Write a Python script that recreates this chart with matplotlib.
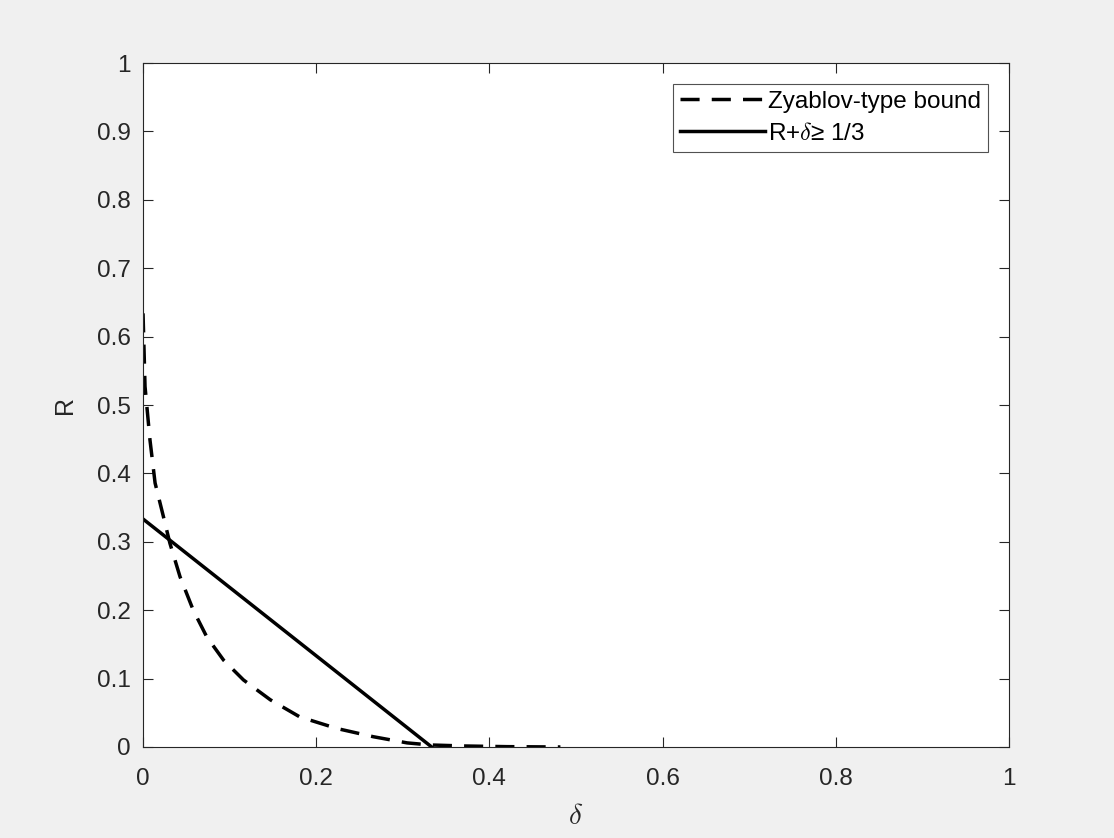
import numpy as np
import matplotlib
matplotlib.use("Agg")
import matplotlib.pyplot as plt

# Zyablov-type bound
zy_delta = [0.0, 0.0023, 0.008, 0.0139, 0.0235, 0.031, 0.0427, 0.058, 0.0736,
            0.093, 0.116, 0.147, 0.181, 0.224, 0.266, 0.305, 0.331, 0.37, 0.42, 0.482]
zy_rate = [0.634, 0.527, 0.449, 0.386, 0.337, 0.298, 0.249, 0.200, 0.161,
           0.127, 0.098, 0.069, 0.044, 0.027, 0.015, 0.006, 0.003, 0.0015, 0.0005, 0.0]

# R + delta >= 1/3
lin_delta = [0.0, 1 / 3]
lin_rate = [1 / 3, 0.0]

x_ticks = [0, 0.2, 0.4, 0.6, 0.8, 1]
y_ticks = [0, 0.1, 0.2, 0.3, 0.4, 0.5, 0.6, 0.7, 0.8, 0.9, 1]

AX = "#262626"
plt.rcParams["font.family"] = ["Liberation Sans", "DejaVu Sans"]
plt.rcParams["mathtext.fontset"] = "cm"

fig = plt.figure(figsize=(11.14, 8.38), dpi=100, facecolor="#f0f0f0")
ax = fig.add_axes([0.1284, 0.1086, 0.7773, 0.8162])
ax.set_facecolor("white")

ax.plot(zy_delta, zy_rate, color="black", linestyle=(0, (5.5, 3.5)), linewidth=2.5,
        label="Zyablov-type bound")
ax.plot(lin_delta, lin_rate, color="black", linestyle="-", linewidth=2.5,
        label=r"R+$\delta$≥ 1/3")

ax.set_xlim(0, 1)
ax.set_ylim(0, 1)
ax.set_xticks(x_ticks)
ax.set_xticklabels([f"{v:g}" for v in x_ticks])
ax.set_yticks(y_ticks)
ax.set_yticklabels([f"{v:g}" for v in y_ticks])
ax.tick_params(direction="in", length=7, width=0.8, colors=AX, labelsize=17.5,
               top=True, right=True)
ax.tick_params(axis="x", pad=15)
ax.tick_params(axis="y", pad=9)
for s in ax.spines.values():
    s.set_color(AX)
    s.set_linewidth(0.8)

ax.set_xlabel(r"$\delta$", fontsize=21, color=AX, labelpad=9)
ax.set_ylabel("R", fontsize=18, color=AX, labelpad=14)

leg = ax.legend(loc="upper right", fontsize=17.5, frameon=True, fancybox=False,
                handlelength=3.5, handletextpad=0.1, borderpad=0.3,
                labelspacing=0.4, borderaxespad=0, bbox_to_anchor=(0.976, 0.97))
leg.get_frame().set_edgecolor(AX)
leg.get_frame().set_linewidth(0.8)

fig.savefig("out.png", dpi=100, facecolor=fig.get_facecolor())
